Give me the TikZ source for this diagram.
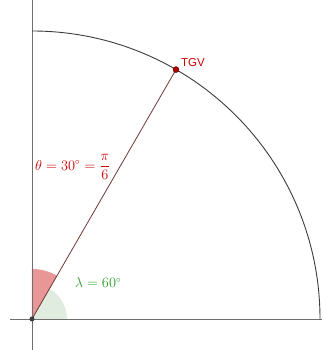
\documentclass[tikz,border=0pt]{standalone}
\usepackage{amsmath}
\usepackage{fontspec}
\newfontfamily\labelsans{Liberation Sans}
\definecolor{axisgray}{RGB}{110,110,110}
\definecolor{arcgray}{RGB}{60,60,60}
\definecolor{segbrown}{RGB}{110,55,55}
\definecolor{labred}{RGB}{204,0,0}
\definecolor{labgreen}{RGB}{40,160,40}
\definecolor{sectred}{RGB}{232,150,150}
\definecolor{sectgreen}{RGB}{225,236,225}
\tikzset{
  axisline/.style={draw=axisgray, line width=0.9pt},
  arcline/.style={draw=arcgray, line width=0.9pt},
  segline/.style={draw=segbrown, line width=0.8pt},
  redlab/.style={text=labred, font=\fontsize{13.5}{16}\selectfont, inner sep=0pt},
  greenlab/.style={text=labgreen, font=\fontsize{13.5}{16}\selectfont, inner sep=0pt},
  pointlab/.style={text=labred, font=\labelsans\fontsize{11.5}{13}\selectfont, inner sep=0pt},
}
\begin{document}
\begin{tikzpicture}[x=1pt,y=1pt]
\useasboundingbox (-32,-31) rectangle (290,319);
\coordinate (O) at (0,0);
\coordinate (T) at (60:288);
% sectors
\fill[sectgreen] (O) -- (0:35) arc[start angle=0,end angle=60,radius=35] -- cycle;
\fill[sectred] (O) -- (60:50) arc[start angle=60,end angle=90,radius=50] -- cycle;
% axes
\coordinate (xl) at (-22,0);
\coordinate (xr) at (290,0);
\coordinate (yb) at (0,-31);
\coordinate (yt) at (0,319);
\draw[axisline] (xl) -- (xr);
\draw[axisline] (yb) -- (yt);
% quarter circle
\draw[arcline] (288,0) arc[start angle=0,end angle=90,radius=288];
% segment
\draw[segline] (O) -- (T);
% points
\node[circle, fill=arcgray, inner sep=0pt, minimum size=5pt] (Odot) at (O) {};
\node[circle, fill=labred!85!black, draw=labred!50!black, line width=0.4pt, inner sep=0pt, minimum size=6pt] (Tdot) at (T) {};
% labels
\node[pointlab, anchor=west] (tgv) at (149,256) {TGV};
\node[redlab, anchor=west] (theta) at (3,152) {$\theta = 30^\circ = \dfrac{\pi}{6}$};
\node[greenlab] (lambda) at (66,36) {$\lambda = 60^\circ$};
\end{tikzpicture}
\end{document}
